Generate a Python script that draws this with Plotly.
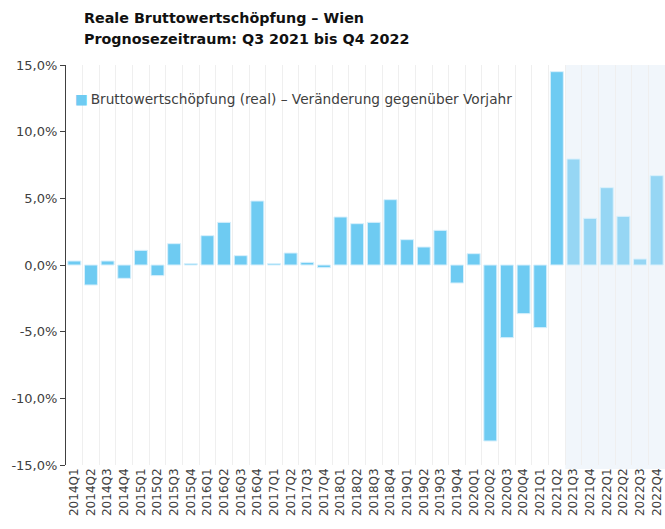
import plotly.graph_objects as go

# Quarterly labels 2014Q1 .. 2022Q4
quarters = [f"{y}Q{q}" for y in range(2014, 2023) for q in range(1, 5)]

# Real gross value added, Vienna – change vs. previous year (%)
growth = [
    0.3, -1.5, 0.3, -1.0,
    1.1, -0.8, 1.6, 0.1,
    2.2, 3.2, 0.7, 4.8,
    0.1, 0.9, 0.2, -0.2,
    3.6, 3.1, 3.2, 4.9,
    1.9, 1.35, 2.6, -1.35,
    0.85, -13.2, -5.45, -3.65,
    -4.7, 14.5, 7.95, 3.5,
    5.8, 3.65, 0.45, 6.7,
]

# Y axis ticks (hyphen-minus as printed in the source layout)
y_ticks = [-15, -10, -5, 0, 5, 10, 15]
y_tick_labels = ["-15,0%", "-10,0%", "-5,0%", "0,0%", "5,0%", "10,0%", "15,0%"]

series_name = "Bruttowertschöpfung (real) – Veränderung gegenüber Vorjahr"
title_lines = ["Reale Bruttowertschöpfung – Wien", "Prognosezeitraum: Q3 2021 bis Q4 2022"]

forecast_start = "2021Q3"
first_fc = quarters.index(forecast_start)

actual_color = "#6ECBF2"
forecast_color = "#96D6F4"
colors = [actual_color if i < first_fc else forecast_color for i in range(len(quarters))]

fig = go.Figure()
fig.add_trace(go.Bar(
    x=quarters,
    y=growth,
    name=series_name,
    marker=dict(color=colors, line=dict(color="#D8F0FC", width=1)),
    showlegend=False,
))

# Shaded forecast period
fig.add_shape(
    type="rect", xref="x", yref="paper",
    x0=first_fc - 0.5, x1=len(quarters) - 0.5, y0=-0.01, y1=1,
    fillcolor="#EEF4FA", line=dict(width=0), layer="below", opacity=0.8,
)

# Title (two bold lines)
fig.add_annotation(
    text=f"<b>{title_lines[0]}</b>", xref="paper", yref="paper",
    x=16 / 599, y=1 + (65 - 18) / 400, xanchor="left", yanchor="middle",
    showarrow=False, font=dict(size=14.3, color="#111111"),
)
fig.add_annotation(
    text=f"<b>{title_lines[1]}</b>", xref="paper", yref="paper",
    x=16 / 599, y=1 + (65 - 38.5) / 400, xanchor="left", yanchor="middle",
    showarrow=False, font=dict(size=14.3, color="#111111"),
)

# Legend entry inside the plot area
fig.add_annotation(
    text=f"<span style='color:{actual_color}'>■</span>\u2009{series_name}",
    xref="paper", yref="paper",
    x=7 / 599, y=1 - (99 - 65) / 400, xanchor="left", yanchor="middle",
    showarrow=False, font=dict(size=13.7, color="#404040"),
)

fig.update_layout(
    width=665, height=529,
    margin=dict(l=66, r=0, t=65, b=64),
    paper_bgcolor="white", plot_bgcolor="white",
    font=dict(family="DejaVu Sans", color="#404040", size=13),
    bargap=0.22,
    showlegend=False,
    xaxis=dict(
        type="category", tickangle=-90, tickson="boundaries",
        showgrid=True, gridcolor="#EFEFEF", gridwidth=1,
        showline=False, ticks="", zeroline=False,
        tickfont=dict(size=12, color="#404040"),
        range=[-0.5, len(quarters) - 0.5],
    ),
    yaxis=dict(
        range=[-15, 15],
        tickmode="array", tickvals=y_ticks, ticktext=y_tick_labels,
        showgrid=False, zeroline=False,
        showline=True, linecolor="#404040", linewidth=1,
        ticks="outside", ticklen=5, tickcolor="#404040",
        tickfont=dict(size=13, color="#404040"),
    ),
)

fig.write_html("out.html")
